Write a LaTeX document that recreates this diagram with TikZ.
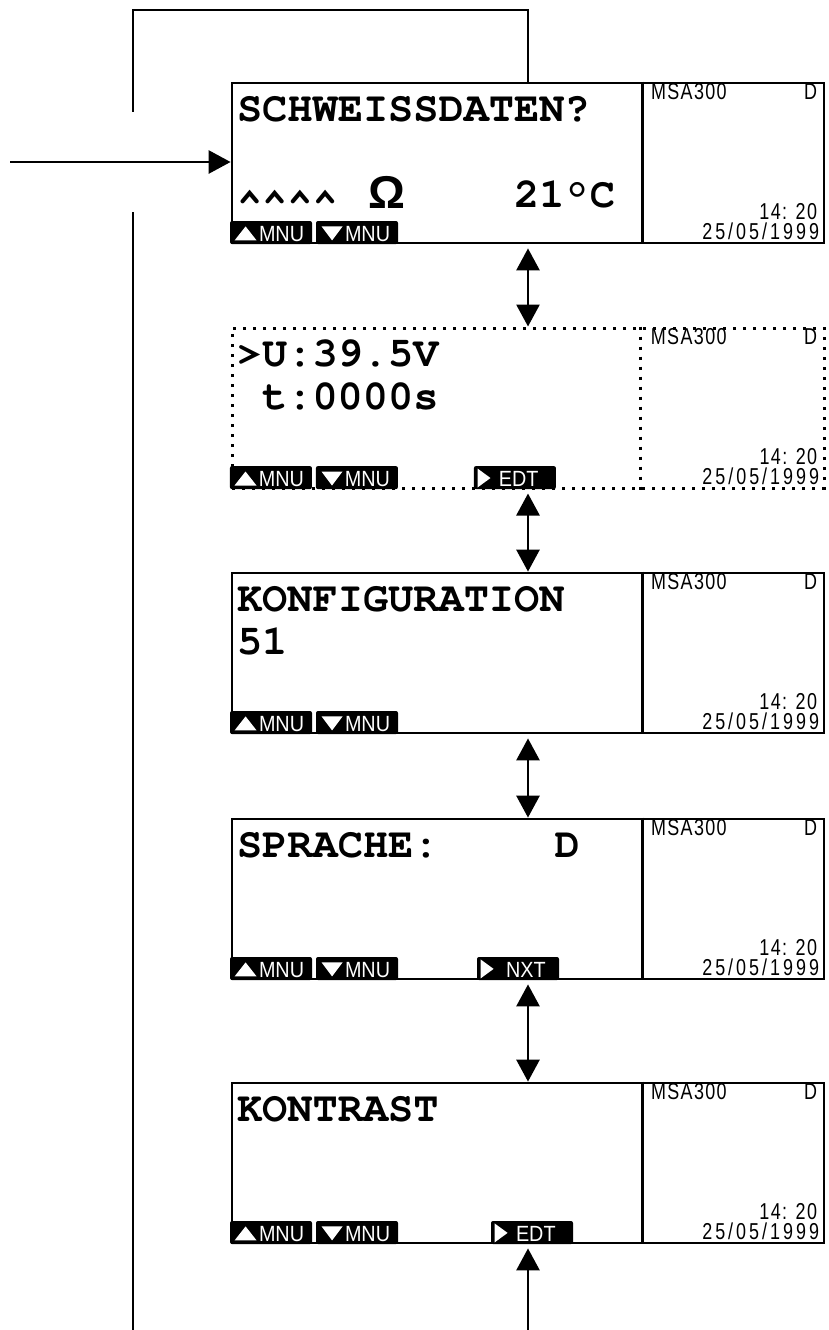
\documentclass[tikz,border=0pt]{standalone}
\usepackage[T1]{fontenc}
\usepackage{fontspec}
\usetikzlibrary{arrows.meta}
\newfontfamily\panelsans[FakeStretch=0.78,LetterSpace=6]{Liberation Sans}
\newfontfamily\datesans[FakeStretch=0.78,LetterSpace=13]{Liberation Sans}
\newfontfamily\keysans[FakeStretch=0.9]{Liberation Sans}
\newfontfamily\ohmsans{Liberation Sans}
\newcommand{\lcdfont}{\fontencoding{T1}\fontfamily{pcr}\fontseries{b}\fontshape{n}\fontsize{21}{25}\selectfont}

% text on the 16 column display: box, column, row, text
\newcommand{\lcdline}[4]{%
  \node[lcdtext] (#1r#3c#2) at ([shift={({6+#2*25.2},{40+(#3-1)*43})}]#1.north west) {#4};}
% white marks on the soft keys
\newcommand{\keymarkup}[1]{\fill[white] ([shift={(5,-4)}]#1.south west) -- ++(22,0) -- ++(-11,-14) -- cycle;}
\newcommand{\keymarkdn}[1]{\fill[white] ([shift={(6,-18)}]#1.south west) -- ++(21,0) -- ++(-10.5,14) -- cycle;}
\newcommand{\keymarkrt}[1]{\fill[white] ([shift={(4,-2)}]#1.south west) -- ++(0,-19) -- ++(13,9.5) -- cycle;}
% soft key: name, box, offset, mark, text offset, label
\newcommand{\softkey}[6]{%
  \node[softkey] (#1) at ([xshift=#3*0.5pt]#2.south west) {};
  \csname keymark#4\endcsname{#1}%
  \node[keylabel] (#1txt) at ([shift={(#5,-3)}]#1.south west) {#6};}

\begin{document}
\begin{tikzpicture}[x=0.5pt,y=-0.5pt,
  >={Triangle[width=11.5pt,length=11pt]},
  conn/.style={line width=1.4pt},
  lcd/.style={draw,line width=1.4pt,minimum width=296pt,minimum height=80pt,inner sep=0},
  lcdtext/.style={anchor=base west,inner sep=0,font=\lcdfont},
  paneltext/.style={inner sep=0,font=\panelsans\fontsize{11.5}{13}\selectfont},
  softkey/.style={anchor=south west,fill=black,rounded corners=1pt,minimum width=41pt,minimum height=11.5pt,inner sep=0},
  keylabel/.style={anchor=base west,inner sep=0,text=white,font=\keysans\fontsize{11}{13}\selectfont},
  dotbox/.style={line width=1.5pt,dash pattern=on 1.5pt off 3.5pt}]
  \useasboundingbox (0,0) rectangle (829,1330);

  \node[lcd] (s1) at (528,163) {};
  \node[lcd,dotbox] (s2) at (528,408) {};
  \node[lcd] (s3) at (528,653) {};
  \node[lcd] (s4) at (528,899) {};
  \node[lcd] (s5) at (528,1163) {};
  \foreach \b in {s1,s3,s4,s5}
    \draw[line width=1.4pt] ([xshift=206pt]\b.north west) -- ([xshift=206pt]\b.south west);
  \draw[dotbox] ([xshift=205pt]s2.north west) -- ([xshift=205pt]s2.south west);

  % status panel
  \foreach \b in {s1,s2,s3,s4,s5}{
    \node[paneltext,anchor=base west] (\b-id) at ([shift={(420,18)}]\b.north west) {MSA300};
    \node[paneltext,anchor=base east] (\b-lang) at ([shift={(-8,18)}]\b.north east) {D};
    \node[paneltext,anchor=base east] (\b-time) at ([shift={(-8,-25)}]\b.south east) {14: 20};
    \node[paneltext,anchor=base east,font=\datesans\fontsize{11.5}{13}\selectfont] (\b-date) at ([shift={(-6,-5)}]\b.south east) {25/05/1999};
  }

  \lcdline{s1}{0}{1}{SCHWEISSDATEN?}
  \lcdline{s1}{0}{3}{\raisebox{-5pt}{\textasciicircum\textasciicircum\textasciicircum\textasciicircum}}
  \node[anchor=base west,inner sep=0,font=\ohmsans\bfseries\fontsize{23}{25}\selectfont] (s1ohm) at ([shift={(137,127)}]s1.north west) {Ω};
  \lcdline{s1}{11}{3}{21\textdegree C}
  \lcdline{s2}{0}{1}{>U:39.5V}
  \lcdline{s2}{1}{2}{t:0000s}
  \lcdline{s3}{0}{1}{KONFIGURATION}
  \lcdline{s3}{0}{2}{51}
  \lcdline{s4}{0}{1}{SPRACHE:}
  \lcdline{s4}{12.6}{1}{D}
  \lcdline{s5}{0}{1}{KONTRAST}

  \foreach \b in {s1,s2,s3,s4,s5}{
    \softkey{\b up}{\b}{-1}{up}{29}{MNU}
    \softkey{\b dn}{\b}{85}{dn}{29}{MNU}
  }
  \softkey{s2edt}{s2}{243}{rt}{25}{EDT}
  \softkey{s4nxt}{s4}{246}{rt}{29}{NXT}
  \softkey{s5edt}{s5}{260}{rt}{25}{EDT}

  % connectors
  \coordinate (loop top) at (133,10);
  \coordinate (loop end) at (133,112);
  \coordinate (feed) at (10,162);
  \coordinate (back top) at (133,212);
  \coordinate (back end) at (133,1330);
  \coordinate (enter) at (528,1330);
  \draw[conn] (s1.north) |- (loop top) -- (loop end);
  \draw[conn,->] (feed) -- (feed -| s1.west);
  \draw[conn] (back top) -- (back end);
  \foreach \a/\b in {s1/s2,s2/s3,s3/s4,s4/s5}
    \draw[conn,<->] ([yshift=-2pt]\a.south) -- (\b.north);
  \draw[conn,->] (enter) -- ([yshift=-2pt]s5.south);
\end{tikzpicture}
\end{document}
